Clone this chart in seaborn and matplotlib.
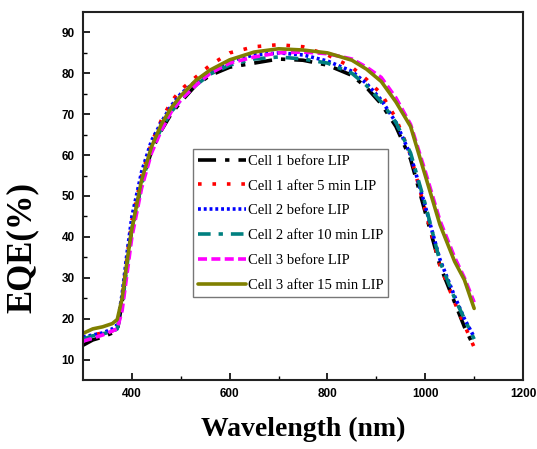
import matplotlib
matplotlib.use("Agg")
import matplotlib.pyplot as plt
import seaborn as sns
import pandas as pd

# wavelength grid (nm)
wl = [300, 320, 340, 360, 370, 380, 390, 400, 420, 440, 460, 480, 500, 530, 560,
      600, 650, 700, 750, 800, 850, 880, 910, 940, 970, 1000, 1030, 1060, 1080, 1100]

# EQE (%)
cell1_before = [13.5, 14.8, 15.5, 16.5, 17.0, 24.0, 34.0, 42.0, 53.0, 61.0, 66.0, 70.0, 73.0, 77.0, 79.5,
                81.5, 82.5, 83.5, 83.2, 82.0, 79.5, 76.5, 72.5, 67.0, 59.0, 46.0, 33.0, 24.0, 18.0, 13.0]
cell1_after5 = [15.0, 16.0, 16.5, 17.0, 18.0, 25.0, 35.0, 44.0, 55.0, 63.0, 68.5, 73.0, 76.0, 79.0, 82.0,
                85.0, 86.5, 87.0, 86.5, 84.5, 81.5, 78.5, 75.0, 69.0, 60.0, 46.5, 33.0, 24.0, 18.5, 13.0]
cell2_before = [15.5, 16.0, 16.5, 17.5, 18.5, 26.0, 36.0, 45.0, 56.0, 63.5, 68.0, 72.0, 75.0, 78.0, 80.5,
                83.0, 84.5, 85.0, 84.5, 83.0, 80.5, 77.5, 73.5, 68.0, 60.0, 47.5, 34.5, 25.5, 20.0, 15.5]
cell2_after10 = [15.0, 15.8, 16.3, 16.8, 17.5, 23.0, 33.0, 42.0, 53.0, 61.5, 66.5, 70.5, 73.5, 77.0, 79.8,
                 82.0, 83.5, 84.0, 83.5, 82.5, 80.0, 77.0, 73.0, 68.0, 60.5, 48.0, 34.0, 25.0, 20.0, 15.0]
cell3_before = [14.5, 15.2, 16.0, 17.0, 17.5, 22.0, 31.0, 40.0, 52.0, 60.5, 66.0, 70.5, 73.5, 77.0, 80.0,
                82.5, 84.0, 85.0, 85.2, 84.8, 83.5, 81.5, 79.0, 74.0, 67.5, 56.0, 44.0, 35.0, 30.0, 24.0]
cell3_after15 = [16.4, 17.5, 18.0, 18.8, 19.8, 25.0, 34.0, 42.0, 54.0, 62.0, 67.5, 71.5, 74.5, 78.2, 80.8,
                 83.3, 85.2, 86.0, 85.7, 85.0, 83.2, 81.0, 78.0, 73.0, 67.0, 55.0, 43.0, 34.0, 29.5, 22.5]

labels = ["Cell 1 before LIP", "Cell 1 after 5 min LIP", "Cell 2 before LIP",
          "Cell 2 after 10 min LIP", "Cell 3 before LIP", "Cell 3 after 15 min LIP"]
series = [cell1_before, cell1_after5, cell2_before, cell2_after10, cell3_before, cell3_after15]

colors = ["black", "red", "blue", "#008080", "#ff00ff", "#808000"]
dashes = [(5, 2.5, 1.2, 2.5), (1.0, 3.0), (0.8, 0.8), (3.5, 2.2, 1.2, 2.2), (2.5, 1.2), None]

sns.set_style("white")
plt.rcParams["font.family"] = ["Liberation Sans", "DejaVu Sans"]

fig = plt.figure(figsize=(5.37, 4.49), dpi=100)
ax = fig.add_axes([0.1546, 0.1537, 0.8194, 0.8196])

for lab, vals, col, d in zip(labels, series, colors, dashes):
    df = pd.DataFrame({"wl": wl, "eqe": vals})
    sns.lineplot(data=df, x="wl", y="eqe", color=col, label=lab, linewidth=2.6, ax=ax)
    line = ax.get_lines()[-1]
    if d is not None:
        line.set_dashes(d)

ax.set_xlim(300, 1200)
ax.set_ylim(5, 95)
ax.set_xticks([400, 600, 800, 1000, 1200])
ax.set_xticks([500, 700, 900, 1100], minor=True)
ax.set_yticks(range(10, 91, 10))
ax.set_yticks(range(15, 91, 10), minor=True)
ax.tick_params(which="major", direction="in", length=5, width=1.2, colors="black",
               labelsize=8.5, pad=6, bottom=True, left=True, top=False, right=False)
ax.tick_params(which="minor", direction="in", length=3, width=1.0, colors="black",
               bottom=True, left=True, top=False, right=False)
for lbl in ax.get_xticklabels() + ax.get_yticklabels():
    lbl.set_fontweight("bold")

for sp in ax.spines.values():
    sp.set_linewidth(1.5)
    sp.set_color("#222222")

ax.set_xlabel("Wavelength (nm)", fontsize=20, fontweight="bold", family="Liberation Serif",
              color="black")
ax.set_ylabel("EQE(%)", fontsize=25, fontweight="bold", family="Liberation Serif",
              color="black")
ax.xaxis.set_label_coords(0.5, -0.1)
ax.yaxis.set_label_coords(-0.1, 0.36)

leg = ax.legend(loc="lower left", bbox_to_anchor=(0.25, 0.225), frameon=True, fancybox=False,
                prop={"family": "Liberation Serif", "size": 10.5}, handlelength=3.3,
                handletextpad=0.1, labelspacing=0.8, borderpad=0.35, borderaxespad=0)
leg.get_frame().set_edgecolor("#555555")
leg.get_frame().set_linewidth(1.0)
for t in leg.get_texts():
    t.set_color("black")

fig.savefig("out.png", dpi=100)
